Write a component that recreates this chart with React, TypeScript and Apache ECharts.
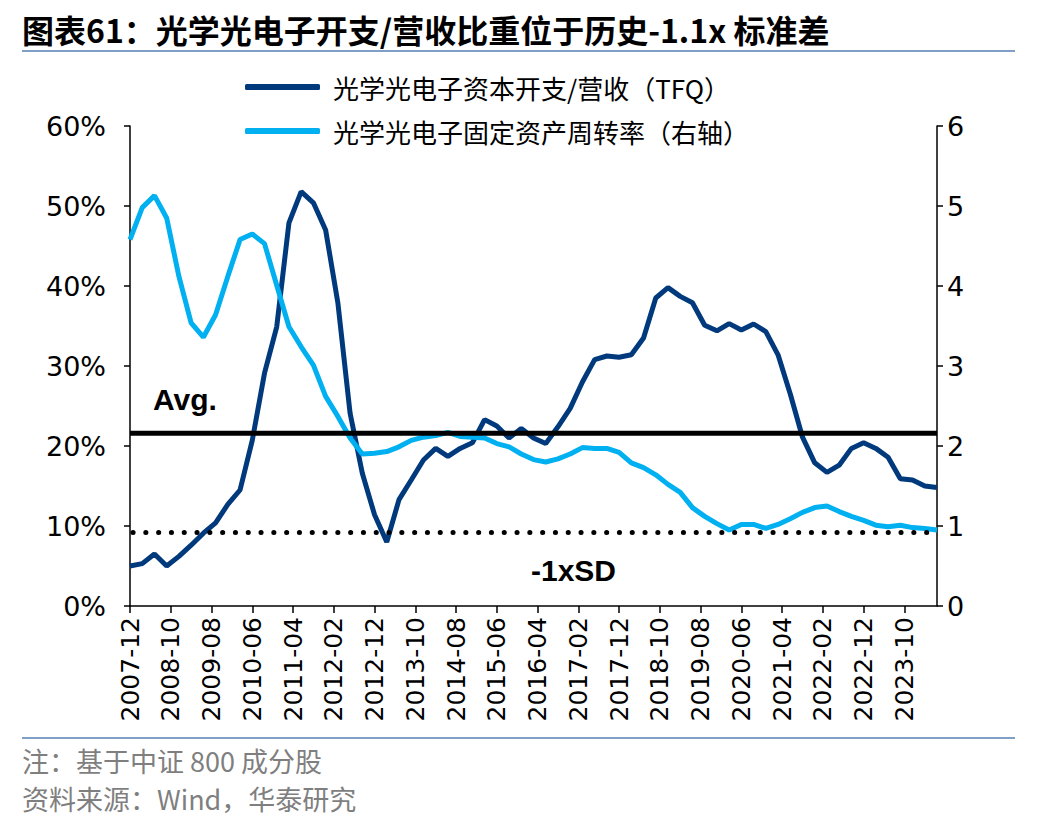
import React, { useEffect, useRef } from "react";
import * as echarts from "echarts";

// Quarterly data, 2007-12 .. 2024-06 (67 quarters)
const START_YEAR = 2007;
const START_MONTH = 12;
const END_YEAR = 2024;
const END_MONTH = 6;

// 光学光电子资本开支/营收（TFQ）, %
const capexRatio: number[] = [
  5.0, 5.3, 6.5, 5.0, 6.2, 7.6, 9.1, 10.4, 12.7, 14.5,
  20.7, 29.1, 34.9, 47.9, 51.8, 50.4, 47.0, 37.9, 24.1, 16.6,
  11.4, 8.0, 13.3, 15.75, 18.25, 19.7, 18.7, 19.7, 20.4, 23.3,
  22.5, 21.0, 22.2, 21.0, 20.3, 22.4, 24.7, 28.0, 30.8, 31.25,
  31.1, 31.4, 33.5, 38.5, 39.8, 38.7, 37.9, 35.1, 34.4, 35.3,
  34.5, 35.25, 34.3, 31.4, 26.5, 21.1, 17.9, 16.7, 17.6, 19.7,
  20.4, 19.7, 18.6, 15.9, 15.75, 15.0, 14.8,
];

// 光学光电子固定资产周转率（右轴）
const assetTurnover: number[] = [
  4.58, 4.98, 5.13, 4.85, 4.12, 3.54, 3.36, 3.64, 4.12, 4.58,
  4.65, 4.53, 4.01, 3.49, 3.24, 3.01, 2.62, 2.37, 2.10, 1.90,
  1.91, 1.93, 1.99, 2.07, 2.11, 2.13, 2.17, 2.12, 2.11, 2.10,
  2.03, 1.99, 1.90, 1.83, 1.80, 1.84, 1.90, 1.98, 1.97, 1.97,
  1.92, 1.79, 1.73, 1.64, 1.52, 1.42, 1.23, 1.12, 1.03, 0.95,
  1.02, 1.02, 0.97, 1.02, 1.09, 1.17, 1.23, 1.25, 1.18, 1.12,
  1.07, 1.01, 0.99, 1.01, 0.98, 0.97, 0.95,
];

const AVG = 21.6;
const MINUS_1SD = 9.2;

const SERIES_NAMES = ["光学光电子资本开支/营收（TFQ）", "光学光电子固定资产周转率（右轴）"];
const TITLE = "图表61：光学光电子开支/营收比重位于历史-1.1x 标准差";
const NOTE = "注：基于中证 800 成分股";
const SOURCE = "资料来源：Wind，华泰研究";
const LEFT_TICKS = [0, 10, 20, 30, 40, 50, 60];
const RIGHT_TICKS = [0, 1, 2, 3, 4, 5, 6];

function buildMonths(): string[] {
  const out: string[] = [];
  let y = START_YEAR;
  let m = START_MONTH;
  while (y < END_YEAR || (y === END_YEAR && m <= END_MONTH)) {
    out.push(`${y}-${String(m).padStart(2, "0")}`);
    m++;
    if (m > 12) {
      m = 1;
      y++;
    }
  }
  return out;
}

export default function App() {
  const ref = useRef<HTMLDivElement>(null);

  useEffect(() => {
    if (!ref.current) return;
    const chart = echarts.init(ref.current, undefined, { renderer: "svg" });
    const months = buildMonths();
    const last = months.length - 1;
    const toPairs = (arr: number[]) => arr.map((v, i) => [i * 3, v]);

    const cjk = '"Noto Sans CJK SC", "Noto Sans", sans-serif';
    const latin = '"DejaVu Sans", "Liberation Sans", sans-serif';
    const arial = '"Liberation Sans", Arial, sans-serif';

    chart.setOption({
      animation: false,
      backgroundColor: "#ffffff",
      grid: { left: 130, right: 111, top: 126, bottom: 226, containLabel: false },
      legend: {
        data: SERIES_NAMES,
        orient: "vertical",
        left: 245,
        top: 74,
        padding: 0,
        itemWidth: 75,
        itemHeight: 6,
        itemGap: 18,
        icon: "roundRect",
        textStyle: { fontFamily: cjk, fontSize: 26, color: "#000", padding: [0, 0, 0, 8] },
      },
      xAxis: {
        type: "category",
        data: months,
        boundaryGap: false,
        axisLine: { lineStyle: { color: "#000", width: 1.5 } },
        axisTick: { interval: 9, length: 7, lineStyle: { color: "#000", width: 1.5 } },
        axisLabel: {
          interval: 9,
          rotate: 90,
          margin: 11,
          fontFamily: latin,
          fontSize: 25,
          color: "#000",
        },
        splitLine: { show: false },
      },
      yAxis: [
        {
          type: "value",
          min: LEFT_TICKS[0],
          max: LEFT_TICKS[LEFT_TICKS.length - 1],
          interval: 10,
          axisLine: { show: true, lineStyle: { color: "#000", width: 1.5 } },
          axisTick: { show: true, length: 6, lineStyle: { color: "#000", width: 1.5 } },
          axisLabel: {
            formatter: "{value}%",
            margin: 24,
            fontFamily: latin,
            fontSize: 27,
            color: "#000",
          },
          splitLine: { show: false },
        },
        {
          type: "value",
          position: "right",
          min: RIGHT_TICKS[0],
          max: RIGHT_TICKS[RIGHT_TICKS.length - 1],
          interval: 1,
          axisLine: { show: true, lineStyle: { color: "#000", width: 1.5 } },
          axisTick: { show: true, length: 6, lineStyle: { color: "#000", width: 1.5 } },
          axisLabel: { margin: 10, fontFamily: latin, fontSize: 27, color: "#000" },
          splitLine: { show: false },
        },
      ],
      series: [
        {
          name: SERIES_NAMES[0],
          type: "line",
          data: toPairs(capexRatio),
          yAxisIndex: 0,
          showSymbol: false,
          symbol: "none",
          lineStyle: { color: "#003A7D", width: 5 },
          itemStyle: { color: "#003A7D" },
          z: 3,
        },
        {
          name: SERIES_NAMES[1],
          type: "line",
          data: toPairs(assetTurnover),
          yAxisIndex: 1,
          showSymbol: false,
          symbol: "none",
          lineStyle: { color: "#00B0F0", width: 5 },
          itemStyle: { color: "#00B0F0" },
          z: 4,
        },
        {
          name: "Avg",
          type: "line",
          data: [[0, AVG], [last, AVG]],
          yAxisIndex: 0,
          showSymbol: false,
          symbol: "none",
          silent: true,
          lineStyle: { color: "#000", width: 5 },
          z: 5,
        },
        {
          name: "-1xSD",
          type: "line",
          data: [[0, MINUS_1SD], [last, MINUS_1SD]],
          yAxisIndex: 0,
          showSymbol: false,
          symbol: "none",
          silent: true,
          lineStyle: { color: "#000", width: 5, type: [0.1, 12.7], cap: "round", dashOffset: -3 },
          z: 5,
        },
      ],
      graphic: [
        {
          type: "text",
          left: 22,
          top: 13,
          style: { text: TITLE, fontFamily: cjk, fontWeight: "bold", fontSize: 32, fill: "#000" },
        },
        {
          type: "line",
          shape: { x1: 22, y1: 51, x2: 1015, y2: 51 },
          style: { stroke: "#7F9FC6", lineWidth: 2 },
        },
        {
          type: "line",
          shape: { x1: 22, y1: 738, x2: 1015, y2: 738 },
          style: { stroke: "#7F9FC6", lineWidth: 2 },
        },
        {
          type: "text",
          left: 153,
          top: 384,
          style: { text: "Avg.", fontFamily: arial, fontWeight: "bold", fontSize: 30, fill: "#000" },
        },
        {
          type: "text",
          left: 531,
          top: 555,
          style: { text: "-1xSD", fontFamily: arial, fontWeight: "bold", fontSize: 30, fill: "#000" },
        },
        {
          type: "text",
          left: 22,
          top: 747,
          style: { text: NOTE, fontFamily: cjk, fontSize: 27, fill: "#7F7F7F" },
        },
        {
          type: "text",
          left: 22,
          top: 785,
          style: { text: SOURCE, fontFamily: cjk, fontSize: 27, fill: "#7F7F7F" },
        },
      ],
    });

    return () => chart.dispose();
  }, []);

  return (
    <div
      ref={ref}
      style={{ position: "fixed", left: 0, top: 0, width: 1048, height: 832, background: "#fff" }}
    />
  );
}
